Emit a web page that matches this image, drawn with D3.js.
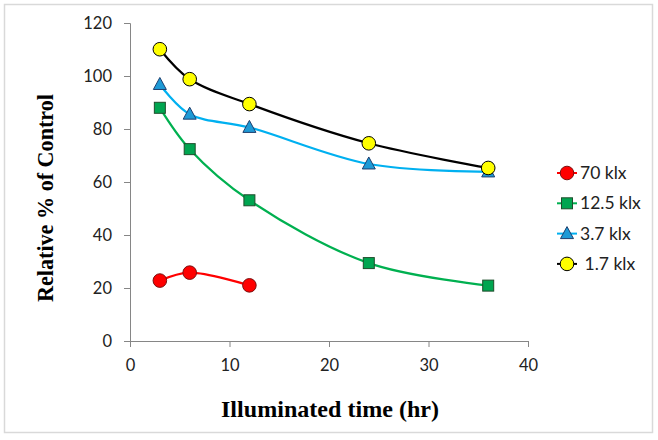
<!DOCTYPE html>
<html><head><meta charset="utf-8">
<script src="https://cdn.jsdelivr.net/npm/d3@7"></script>
<style>body{margin:0;background:#fff}svg{display:block}</style>
</head><body>
<svg id="c" width="658" height="440"></svg>
<script>
const xTicks = [0, 10, 20, 30, 40];
const yTicks = [0, 20, 40, 60, 80, 100, 120];
const seriesNames = ["70 klx", "12.5 klx", "3.7 klx", " 1.7 klx"];
const times70 = [3, 6, 12];
const values70 = [22.8, 25.8, 21.0];
const times = [3, 6, 12, 24, 36];
const values12_5 = [88.0, 72.4, 53.1, 29.4, 20.9];
const values3_7 = [96.8, 85.6, 80.6, 66.8, 63.8];
const values1_7 = [110.1, 98.8, 89.4, 74.6, 65.3];

const series = [
  {name: seriesNames[0], xs: times70, ys: values70, line: "#FF0000", fill: "#FF0000", stroke: "#7a1010", shape: "circle"},
  {name: seriesNames[1], xs: times, ys: values12_5, line: "#00B050", fill: "#00A550", stroke: "#1e4d2b", shape: "square"},
  {name: seriesNames[2], xs: times, ys: values3_7, line: "#00B0F0", fill: "#1E9AD6", stroke: "#1f3f6e", shape: "triangle"},
  {name: seriesNames[3], xs: times, ys: values1_7, line: "#000000", fill: "#FFFF00", stroke: "#000000", shape: "circle"}
];

const svg = d3.select("#c");
svg.append("rect").attr("x", 4.5).attr("y", 4.5).attr("width", 648).attr("height", 428)
  .attr("fill", "#fff").attr("stroke", "#D9D9D9").attr("stroke-width", 1.5);

const x = d3.scaleLinear().domain([0, 40]).range([130, 528]);
const y = d3.scaleLinear().domain([0, 120]).range([341, 23]);

const font = "Lato, 'Open Sans', sans-serif";
const axisColor = "#868686";

const gy = svg.append("g").attr("transform", "translate(130,0)")
  .call(d3.axisLeft(y).tickValues(yTicks).tickSize(6).tickPadding(12));
const gx = svg.append("g").attr("transform", "translate(0,341)")
  .call(d3.axisBottom(x).tickValues(xTicks).tickSize(6).tickPadding(12));
[gx, gy].forEach(g => {
  g.select(".domain").attr("stroke", axisColor);
  g.selectAll(".tick line").attr("stroke", axisColor);
  g.selectAll(".tick text").attr("fill", "#222").style("font-family", font).style("font-size", "16.5px");
});

svg.append("text").attr("transform", "translate(53,198) rotate(-90)")
  .attr("text-anchor", "middle").style("font-family", "'Liberation Serif', serif")
  .style("font-weight", "bold").style("font-size", "23px").attr("fill", "#000")
  .attr("textLength", 208).attr("lengthAdjust", "spacingAndGlyphs")
  .text("Relative % of Control");
svg.append("text").attr("x", 330).attr("y", 417)
  .attr("text-anchor", "middle").style("font-family", "'Liberation Serif', serif")
  .style("font-weight", "bold").style("font-size", "24px").attr("fill", "#000")
  .attr("textLength", 218).attr("lengthAdjust", "spacingAndGlyphs")
  .text("Illuminated time (hr)");

const line = d3.line().x(d => x(d[0])).y(d => y(d[1])).curve(d3.curveCatmullRom.alpha(0.5));

function marker(g, shape, cx, cy, s) {
  let m;
  if (shape === "circle") {
    m = g.append("circle").attr("cx", cx).attr("cy", cy).attr("r", 6.8);
  } else if (shape === "square") {
    m = g.append("rect").attr("x", cx - 5.5).attr("y", cy - 5.5).attr("width", 11).attr("height", 11);
  } else {
    m = g.append("path").attr("d", `M${cx},${cy - 7}L${cx + 6.5},${cy + 5}L${cx - 6.5},${cy + 5}Z`);
  }
  m.attr("fill", s.fill).attr("stroke", s.stroke).attr("stroke-width", 1);
}

series.forEach(s => {
  const pts = s.xs.map((t, i) => [t, s.ys[i]]);
  const g = svg.append("g");
  g.append("path").datum(pts).attr("d", line).attr("fill", "none")
    .attr("stroke", s.line).attr("stroke-width", 2.2);
  pts.forEach(p => marker(g, s.shape, x(p[0]), y(p[1]), s));
});

const leg = svg.append("g");
series.forEach((s, i) => {
  const ly = 173 + i * 30.3;
  leg.append("line").attr("x1", 557).attr("x2", 577).attr("y1", ly).attr("y2", ly)
    .attr("stroke", s.line).attr("stroke-width", 2);
  marker(leg, s.shape, 567, ly, s);
  leg.append("text").attr("x", 580).attr("y", ly + 6).attr("fill", "#222")
    .style("font-family", font).style("font-size", "17.5px").style("white-space", "pre")
    .text(s.name);
});
</script>
</body></html>
